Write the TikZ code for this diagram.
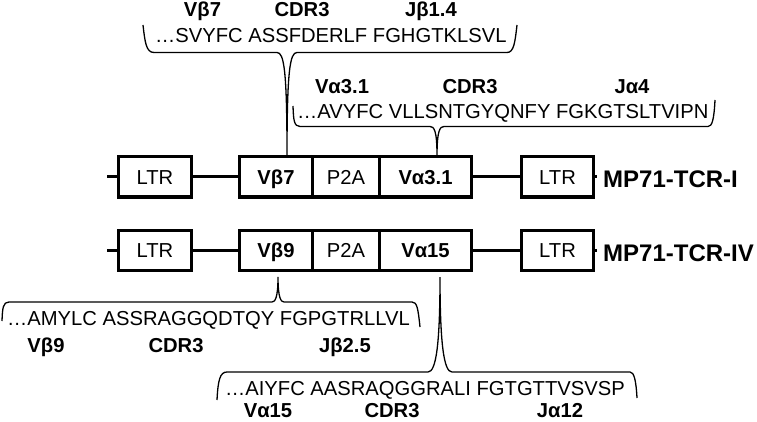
\documentclass[tikz,border=0pt]{standalone}
\usepackage{fontspec}
\setmainfont{Liberation Sans}
\begin{document}
\begin{tikzpicture}[x=1pt,y=-1pt,
  txt/.style={font=\fontsize{20.2}{24}\selectfont, inner sep=0pt},
  lbl/.style={font=\fontsize{20.2}{24}\selectfont\bfseries, inner sep=0pt, anchor=base},
  seq/.style={txt, anchor=base west},
  elem/.style={draw, line width=3pt, minimum height=40pt, inner sep=0pt, text height=14.5pt, text depth=0pt, font=\fontsize{20.2}{24}\selectfont, anchor=west},
  velem/.style={elem, font=\fontsize{20.2}{24}\selectfont\bfseries},
  wire/.style={line width=3pt},
  brace/.style={line width=1.3pt},
  cname/.style={font=\fontsize{24}{28}\selectfont\bfseries, inner sep=0pt, anchor=base west}]
\useasboundingbox (0,0) rectangle (757,422);

% ---------- row 1 ----------
\coordinate (sA) at (107,177);
\node[elem, minimum width=73pt] (ltrA) at (117,177) {LTR};
\node[velem, minimum width=73pt] (vbA) at (238,177) {Vβ7};
\node[elem, minimum width=67pt] (p2aA) at (311,177) {P2A};
\node[velem, minimum width=92pt] (vaA) at (378,177) {Vα3.1};
\node[elem, minimum width=72pt] (ltrB) at (520,177) {LTR};
\coordinate (eA) at (597,177);
\node[cname] (nA) at (603,188) {MP71-TCR-I};
\draw[wire] (sA) -- (ltrA.west);
\draw[wire] (ltrA.east) -- (vbA.west);
\draw[wire] (vaA.east) -- (ltrB.west);
\draw[wire] (ltrB.east) -- (eA);

% ---------- row 2 ----------
\coordinate (sB) at (107,250);
\node[elem, minimum width=73pt] (ltrC) at (117,250) {LTR};
\node[velem, minimum width=73pt] (vbB) at (238,250) {Vβ9};
\node[elem, minimum width=67pt] (p2aB) at (311,250) {P2A};
\node[velem, minimum width=92pt] (vaB) at (378,250) {Vα15};
\node[elem, minimum width=72pt] (ltrD) at (520,250) {LTR};
\coordinate (eB) at (597,250);
\node[cname] (nB) at (603,261) {MP71-TCR-IV};
\draw[wire] (sB) -- (ltrC.west);
\draw[wire] (ltrC.east) -- (vbB.west);
\draw[wire] (vaB.east) -- (ltrD.west);
\draw[wire] (ltrD.east) -- (eB);

% ---------- sequence 1 (V beta 7) ----------
\node[lbl] (l1a) at (202.5,17) {Vβ7};
\node[lbl] (l1b) at (302,17) {CDR3};
\node[lbl] (l1c) at (431,17) {Jβ1.4};
\node[seq] (s1) at (155,43) {…SVYFC ASSFDERLF FGHGTKLSVL};
\coordinate (tip1) at (287,156);
\draw[brace] (143,25) .. controls (145,42) and (146,52.5) .. (154,52.5) -- (277,52.5)
  .. controls (284,52.5) and (287,70) .. (tip1)
  .. controls (287,70) and (290,52.5) .. (297,52.5) -- (507,52.5)
  .. controls (514,52.5) and (515,42) .. (517,25);

% ---------- sequence 2 (V alpha 3.1) ----------
\node[lbl] (l2a) at (342,94) {Vα3.1};
\node[lbl] (l2b) at (470,94) {CDR3};
\node[lbl] (l2c) at (632,94) {Jα4};
\node[seq] (s2) at (297,118.5) {…AVYFC VLLSNTGYQNFY FGKGTSLTVIPN};
\coordinate (tip2) at (437,156);
\draw[brace] (293,106) .. controls (293.5,120) and (294,126.5) .. (300,126.5) -- (430,126.5)
  .. controls (434,126.5) and (437,130) .. (tip2)
  .. controls (437,130) and (440,126.5) .. (444,126.5) -- (708,126.5)
  .. controls (712,126.5) and (714,120) .. (715,100);

% ---------- sequence 3 (V beta 9) ----------
\node[seq] (s3) at (7,325) {…AMYLC ASSRAGGQDTQY FGPGTRLLVL};
\node[lbl] (l3a) at (46,352) {Vβ9};
\node[lbl] (l3b) at (176,352) {CDR3};
\node[lbl] (l3c) at (345,352) {Jβ2.5};
\coordinate (tip3) at (278,277);
\draw[brace] (2,321) .. controls (2.5,308) and (3,302) .. (9,302) -- (272,302)
  .. controls (275,302) and (278,298) .. (tip3)
  .. controls (278,298) and (281,302) .. (284,302) -- (412,302)
  .. controls (417,302) and (418,308) .. (420,327);

% ---------- sequence 4 (V alpha 15) ----------
\node[seq] (s4) at (225,395) {…AIYFC AASRAQGGRALI FGTGTTVSVSP};
\node[lbl] (l4a) at (268,417) {Vα15};
\node[lbl] (l4b) at (392,417) {CDR3};
\node[lbl] (l4c) at (560,417) {Jα12};
\coordinate (tip4) at (440,277);
\draw[brace] (217,400) .. controls (218,380) and (220,372) .. (227,372) -- (428,372)
  .. controls (436,372) and (440,345) .. (tip4)
  .. controls (440,345) and (444,372) .. (452,372) -- (630,372)
  .. controls (634,372) and (636,380) .. (637,398);
\end{tikzpicture}
\end{document}
